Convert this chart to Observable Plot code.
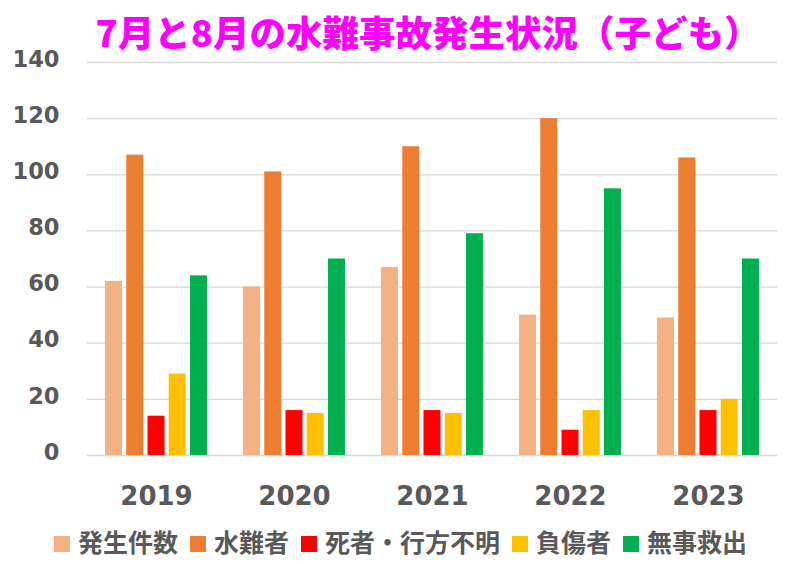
<!DOCTYPE html>
<html><head><meta charset="utf-8">
<script src="https://cdn.jsdelivr.net/npm/d3@7"></script>
<script src="https://cdn.jsdelivr.net/npm/@observablehq/plot@0.6"></script>
<style>
body{margin:0;background:#fff;}
#wrap{position:relative;width:790px;height:564px;overflow:hidden;background:#fff;}
#title{position:absolute;left:0;top:7px;width:856px;text-align:center;font-family:"Noto Sans CJK JP",sans-serif;font-weight:900;font-size:36.5px;color:#FF00FF;line-height:50px;white-space:nowrap;}
#chart{position:absolute;left:0;top:0;}
#legend{position:absolute;left:54px;top:527px;display:flex;align-items:flex-end;font-family:"Noto Sans CJK JP",sans-serif;font-weight:bold;font-size:25px;color:#595959;white-space:nowrap;}
.item{display:flex;align-items:flex-end;margin-right:12px;}
.sw{width:16px;height:16px;margin-right:8px;margin-bottom:4px;}
.lbl{line-height:29px;}
</style></head><body>
<div id="wrap"><div id="chart"></div><div id="title">7月と8月の水難事故発生状況（子ども）</div><div id="legend"></div></div>
<script>
const years = ["2019","2020","2021","2022","2023"];
const series = ["発生件数","水難者","死者・行方不明","負傷者","無事救出"];
const colors = ["#F4B183","#ED7D31","#FF0000","#FFC000","#00B050"];
const occurrences = [62,60,67,50,49];
const victims = [107,101,110,120,106];
const deadMissing = [14,16,16,9,16];
const injured = [29,15,15,16,20];
const rescued = [64,70,79,95,70];
const yTicks = [0,20,40,60,80,100,120,140];
const values = [occurrences, victims, deadMissing, injured, rescued];
const data = years.flatMap((year,i)=>series.map((s,j)=>({year, series:s, value: values[j][i]})));

const chart = Plot.plot({
  width:790, height:520, marginLeft:87, marginRight:13, marginTop:62, marginBottom:65,
  style:{fontFamily:"DejaVu Sans", background:"white"},
  fx:{domain:years, padding:0, label:null, round:false},
  x:{domain:series, axis:null, paddingInner:0.2, paddingOuter:0.85, round:false},
  y:{domain:[0,140], label:null},
  color:{domain:series, range:colors},
  marks:[
    Plot.gridY(yTicks,{stroke:"#d9d9d9", strokeOpacity:1, strokeWidth:1.3}),
    Plot.barY(data,{fx:"year", x:"series", y:"value", fill:"series"}),
    Plot.axisY(yTicks,{tickSize:0, tickPadding:28, fontSize:22.5, fontWeight:"bold", fill:"#595959", label:null, dy:-3}),
    Plot.axisFx({anchor:"bottom", tickSize:0, tickPadding:31, fontSize:26, fontWeight:"bold", fill:"#595959", label:null})
  ]
});
document.getElementById("chart").appendChild(chart);

const legend = document.getElementById("legend");
series.forEach((s,i)=>{
  const item = document.createElement("div"); item.className="item";
  const sw = document.createElement("div"); sw.className="sw"; sw.style.background=colors[i];
  const lb = document.createElement("span"); lb.className="lbl"; lb.textContent=s;
  item.appendChild(sw); item.appendChild(lb); legend.appendChild(item);
});
</script>
</body></html>
